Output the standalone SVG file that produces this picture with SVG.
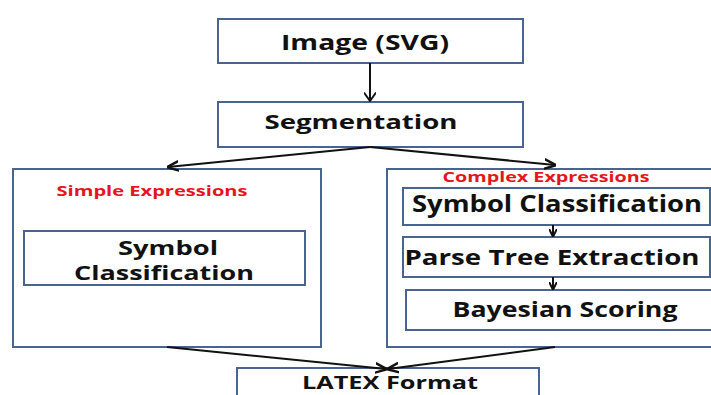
<svg xmlns="http://www.w3.org/2000/svg" width="711" height="395" viewBox="0 0 711 395">
<defs>
<style>
.box{fill:#fff;stroke:#4a6491;stroke-width:2}
.t{font-family:"Open Sans",sans-serif;font-weight:bold;fill:#111;text-anchor:middle}
.r{font-family:"Open Sans",sans-serif;font-weight:bold;fill:#e8141c;text-anchor:middle}
.c{stroke:#111;stroke-width:2;fill:none}
</style>
<marker id="ah" viewBox="0 0 10 10" refX="9" refY="5" markerWidth="6" markerHeight="6" orient="auto" markerUnits="strokeWidth">
<path d="M0,1 L10,5 L0,9" fill="none" stroke="#111" stroke-width="2"/>
</marker>
<marker id="ahm" viewBox="0 0 10 10" refX="9" refY="5" markerWidth="6" markerHeight="6" orient="auto" markerUnits="strokeWidth">
<path d="M2,0 L9,5 L2,10" fill="none" stroke="#111" stroke-width="1.6"/>
</marker>
<marker id="ahs" viewBox="0 0 10 10" refX="9" refY="5" markerWidth="4" markerHeight="4" orient="auto" markerUnits="strokeWidth">
<path d="M0,0 L10,5 L0,10" fill="none" stroke="#111" stroke-width="2.5"/>
</marker>
</defs>
<rect width="711" height="395" fill="#fff"/>
<g id="image"><rect class="box" x="218" y="19" width="305" height="44"/><text class="t" x="365" y="50" font-size="21" textLength="168" lengthAdjust="spacingAndGlyphs">Image (SVG)</text></g>
<g id="segmentation"><rect class="box" x="218" y="102" width="305" height="45"/><text class="t" x="361" y="129" font-size="20" textLength="193" lengthAdjust="spacingAndGlyphs">Segmentation</text></g>
<g id="simple"><rect class="box" x="13" y="169" width="308" height="178"/><text class="r" x="152" y="196" font-size="15" textLength="191" lengthAdjust="spacingAndGlyphs">Simple Expressions</text>
<g id="simple-symbol"><rect class="box" x="24" y="231" width="281" height="54"/><text class="t" x="168" y="255" font-size="20" textLength="100" lengthAdjust="spacingAndGlyphs">Symbol</text><text class="t" x="164" y="280" font-size="20" textLength="180" lengthAdjust="spacingAndGlyphs">Classification</text></g></g>
<g id="complex"><rect class="box" x="387" y="169" width="330" height="178"/><text class="r" x="546" y="182" font-size="14" textLength="207" lengthAdjust="spacingAndGlyphs">Complex Expressions</text>
<g id="complex-symbol"><rect class="box" x="403" y="188" width="307" height="37"/><text class="t" x="557" y="212" font-size="23" textLength="290" lengthAdjust="spacingAndGlyphs">Symbol Classification</text></g>
<g id="parse"><rect class="box" x="403" y="237" width="307" height="40"/><text class="t" x="552" y="265" font-size="21" textLength="295" lengthAdjust="spacingAndGlyphs">Parse Tree Extraction</text></g>
<g id="bayes"><rect class="box" x="406" y="290" width="310" height="40"/><text class="t" x="565" y="317" font-size="21" textLength="225" lengthAdjust="spacingAndGlyphs">Bayesian Scoring</text></g></g>
<g id="latex"><rect class="box" x="237" y="368" width="302" height="29"/><text class="t" x="390" y="389" font-size="18" textLength="176" lengthAdjust="spacingAndGlyphs">LATEX Format</text></g>
<g id="connectors">
<line class="c" x1="370" y1="63" x2="370" y2="101" stroke-width="3.5" marker-end="url(#ahm)"/>
<line class="c" x1="370" y1="147" x2="168" y2="167" marker-end="url(#ah)"/>
<line class="c" x1="370" y1="147" x2="555" y2="165" marker-end="url(#ah)"/>
<line class="c" x1="553" y1="225" x2="553" y2="236" stroke-width="1.5" marker-end="url(#ahs)"/>
<line class="c" x1="553" y1="277" x2="553" y2="289" stroke-width="1.5" marker-end="url(#ahs)"/>
<line class="c" x1="167" y1="347" x2="386" y2="369" marker-end="url(#ah)"/>
<line class="c" x1="555" y1="347" x2="388" y2="369" marker-end="url(#ah)"/>
</g>
</svg>
